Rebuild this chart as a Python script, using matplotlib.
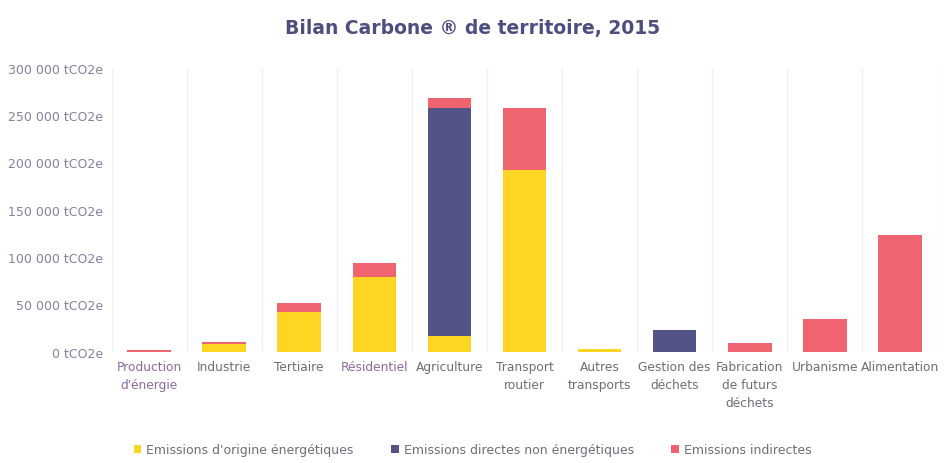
import matplotlib.pyplot as plt
import numpy as np

categories = ["Production\nd'énergie", "Industrie", "Tertiaire", "Résidentiel", "Agriculture",
              "Transport\nroutier", "Autres\ntransports", "Gestion des\ndéchets",
              "Fabrication\nde futurs\ndéchets", "Urbanisme", "Alimentation"]
energie = [0, 8000, 42000, 79000, 17000, 192000, 3000, 0, 0, 0, 0]
directes = [0, 0, 0, 0, 240000, 0, 0, 23000, 0, 0, 0]
indirectes = [1500, 2500, 9000, 15000, 11000, 65000, 0, 0, 9000, 35000, 123000]
yticks = [0, 50000, 100000, 150000, 200000, 250000, 300000]

c_yellow = '#FDD623'
c_blue = '#535388'
c_red = '#F0646F'

plt.rcParams['font.family'] = ['DejaVu Sans']

fig = plt.figure(figsize=(9.45, 4.64), dpi=100)
ax = fig.add_axes([0.118, 0.24, 0.874, 0.612])

x = np.arange(len(categories))
e = np.array(energie)
d = np.array(directes)
i = np.array(indirectes)
w = 0.58
ax.bar(x, e, w, color=c_yellow, label="Emissions d'origine énergétiques")
ax.bar(x, d, w, bottom=e, color=c_blue, label="Emissions directes non énergétiques")
ax.bar(x, i, w, bottom=e + d, color=c_red, label="Emissions indirectes")

ax.set_xlim(-0.5, len(categories) - 0.5)
ax.set_ylim(0, 300000)
ax.set_yticks(yticks)
ax.set_yticklabels([f"{v:,}".replace(",", " ") + " tCO2e" for v in yticks],
                   color='#8a7f9e', fontsize=9)
ax.set_xticks(x)
ax.set_xticklabels(categories, fontsize=8.8, color='#6e6e78', linespacing=1.5)
for k in (0, 3):
    ax.get_xticklabels()[k].set_color('#8a6a9a')
ax.tick_params(length=0, pad=6)
for b in np.arange(len(categories) + 1) - 0.5:
    ax.axvline(b, color='#f0f0f0', lw=1, zorder=0)
for s in ax.spines.values():
    s.set_visible(False)

fig.suptitle("Bilan Carbone ® de territoire, 2015", y=0.96, fontsize=13.5,
             fontweight='bold', color='#4d4d80')
fig.legend(loc='lower center', bbox_to_anchor=(0.5, -0.01), ncol=3, frameon=False,
           fontsize=9, handlelength=0.6, handleheight=0.6, columnspacing=3,
           labelcolor='#6e6e78', handletextpad=0.4)

fig.savefig('out.png', dpi=100)
